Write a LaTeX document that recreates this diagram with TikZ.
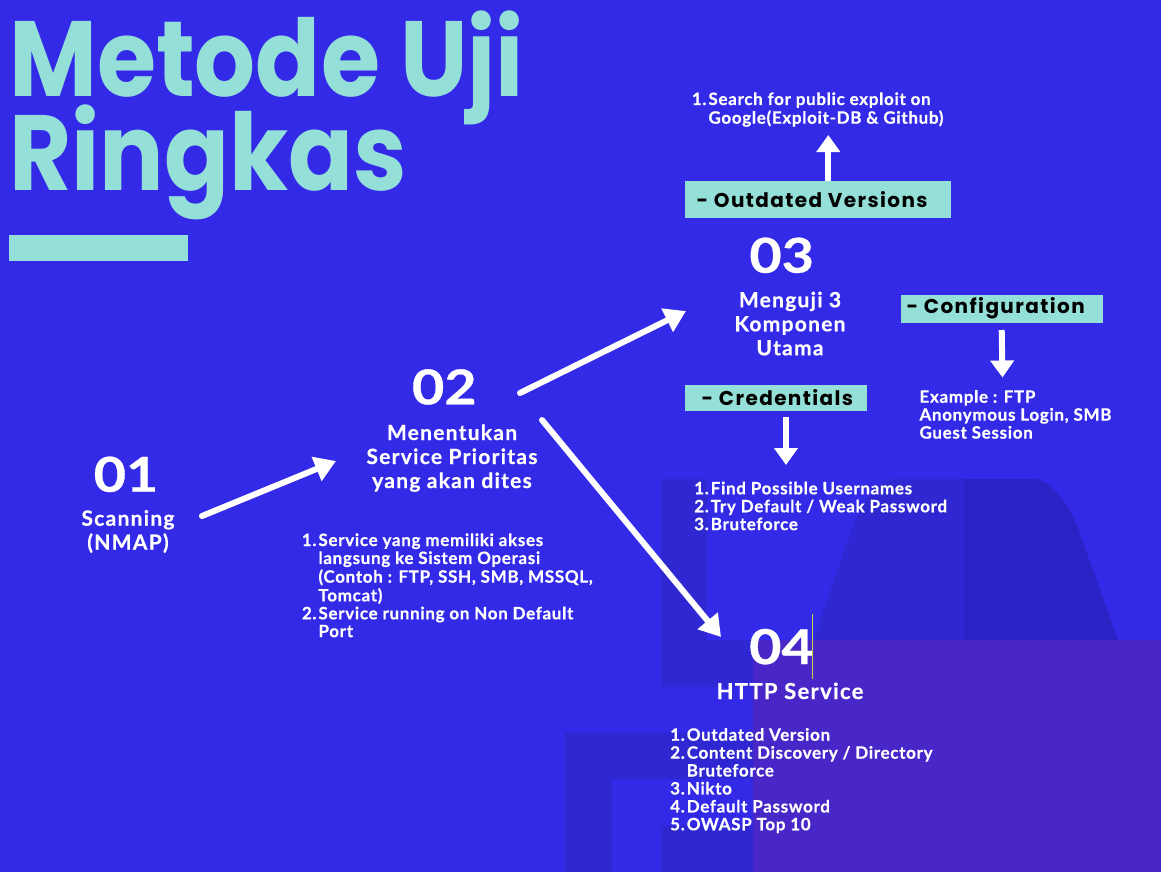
\documentclass[tikz,border=0pt]{standalone}
\usepackage{fontspec}
\usepackage{graphicx}
\setmainfont{Lato}
\newfontfamily\titlefont{Poppins}
\newfontfamily\labfont{Poppins}[LetterSpace=7]
\newfontfamily\hfont{Lato}[LetterSpace=6,FakeBold=0.5]
\newfontfamily\lfont{Lato}[LetterSpace=4,FakeBold=0.5]
\newfontfamily\nfont{Lato}[FakeBold=0.6]
\usetikzlibrary{arrows.meta}
\definecolor{bgblue}{RGB}{51,42,231}
\definecolor{shadeA}{RGB}{47,40,210}
\definecolor{shadeB}{RGB}{43,35,198}
\definecolor{purp}{RGB}{73,38,200}
\definecolor{tealc}{RGB}{148,224,216}
\definecolor{cursorc}{RGB}{200,210,70}
\newcommand\cTxt[1]{\begin{tabular}[t]{@{}c@{}}#1\end{tabular}}
\newcommand\lTxt[1]{\begin{tabular}[t]{@{}l@{}}#1\end{tabular}}
\newcommand\oLst[1]{\begin{tabular}[t]{@{}l@{\hspace{2pt}}l@{}}#1\end{tabular}}
\newcommand\wideNum[1]{\scalebox{1.16}[1]{#1}}
\begin{document}
\begin{tikzpicture}[x=1pt,y=-1pt,
  num/.style={anchor=base,inner sep=0pt,text=white,font=\nfont\bfseries\fontsize{48}{48}\selectfont},
  head/.style={anchor=base,inner sep=0pt,text=white,font=\hfont\bfseries\fontsize{21}{24}\selectfont},
  small/.style={anchor=base west,inner sep=0pt,text=white,font=\lfont\bfseries\fontsize{17}{17.8}\selectfont},
  tbox/.style={fill=tealc,anchor=north west,inner sep=0pt,text=black,font=\labfont\bfseries\fontsize{20}{20}\selectfont},
  bigarrow/.style={draw=white,line width=6pt,line cap=round,-{Triangle[length=21pt,width=25pt]}},
  smallarrow/.style={draw=white,line width=6pt,-{Triangle[length=17pt,width=23pt]}},
  titletext/.style={anchor=base west,inner sep=0pt,text=tealc,font=\titlefont\bfseries\fontsize{107}{94}\selectfont}
]
\fill[bgblue] (0,0) rectangle (1161,872);
\useasboundingbox (0,0) rectangle (1161,872);

% faint background shapes
\fill[shadeA] (661,479) rectangle (707,687);
\fill[shadeA] (661,640) rectangle (753,687);
\begin{scope}
  \path[clip] (890,479) .. controls (872,485) and (862,505) .. (852,528) -- (813,640) -- (1118,640) -- (1078,528) .. controls (1068,505) and (1056,485) .. (1037,479) -- cycle;
  \fill[shadeA] (800,470) rectangle (964,650);
  \fill[shadeB] (964,470) rectangle (1130,650);
\end{scope}
\fill[shadeA] (565,733) rectangle (753,872);
\fill[bgblue] (612,779) rectangle (753,872);
\fill[shadeA] (661,826) rectangle (753,872);
\fill[purp] (753,640) rectangle (1161,872);

% title
\node[titletext] (title) at (9,96.7) {\scalebox{0.895}[1]{\vtop{\baselineskip=94pt\lineskiplimit=-300pt\lineskip=0pt\hbox{Metode Uji}\hbox{Ringkas}}}};
\node[fill=tealc,inner sep=0pt,minimum width=179pt,minimum height=25.5pt,anchor=north west] (bar) at (9,235) {};

% step 01
\node[num] (n01) at (126,491.7) {\wideNum{01}};
\node[head] (t01) at (128,525.7) {\cTxt{Scanning\\(NMAP)}};

% step 02
\node[num] (n02) at (444.3,404.3) {\wideNum{02}};
\node[head] (t02) at (452,440) {\cTxt{Menentukan\\Service Prioritas\\yang akan dites}};
\node[small] (l02) at (301.7,546) {\oLst{1. & Service yang memiliki akses\\ & langsung ke Sistem Operasi\\ & (Contoh : FTP, SSH, SMB, MSSQL,\\ & Tomcat)\\ 2. & Service running on Non Default\\ & Port}};

% step 03
\node[num] (n03) at (781.7,272.7) {\wideNum{03}};
\node[head] (t03) at (790,307.3) {\cTxt{Menguji 3\\Komponen\\Utama}};

\node[tbox,minimum width=266pt,minimum height=37pt] (boxOut) at (685,181) {};
\node[tbox,anchor=west] (boxOutT) at (696.5,199.5) {- Outdated Versions};
\node[small] (lOut) at (691.7,105) {\oLst{1. & Search for public exploit on\\ & Google(Exploit-DB \& Github)}};

\node[tbox,minimum width=202pt,minimum height=27.5pt] (boxConf) at (901,295) {};
\node[tbox,anchor=west] (boxConfT) at (906.5,308.7) {- Configuration};
\node[small] (lConf) at (919.3,402.7) {\lTxt{Example : FTP\\Anonymous Login, SMB\\Guest Session}};

\node[tbox,minimum width=181.5pt,minimum height=25.7pt] (boxCred) at (685,385) {};
\node[tbox,anchor=west] (boxCredT) at (701.5,397.8) {- Credentials};
\node[small] (lCred) at (694,494.3) {\oLst{1. & Find Possible Usernames\\ 2. & Try Default / Weak Password\\ 3. & Bruteforce}};

% step 04
\node[num] (n04) at (781.5,664) {\wideNum{04}};
\node[head,font=\hfont\bfseries\fontsize{22}{24}\selectfont] (t04) at (790,699) {HTTP Service};
\node[small] (l04) at (670,740.7) {\oLst{1. & Outdated Version\\ 2. & Content Discovery / Directory\\ & Bruteforce\\ 3. & Nikto\\ 4. & Default Password\\ 5. & OWASP Top 10}};
\draw[cursorc,line width=1pt] (812.3,614) -- (812.3,679);

% arrows
\coordinate (a1s) at (202,516);
\coordinate (a1e) at (336,461);
\coordinate (a2s) at (520,393);
\coordinate (a2e) at (686,311);
\coordinate (a3s) at (542,420);
\coordinate (a3e) at (721,637);
\coordinate (upS) at (828.3,181);
\coordinate (upE) at (828.3,135);
\coordinate (cfS) at (1001.7,330);
\coordinate (cfE) at (1002.5,377.5);
\coordinate (crS) at (786,417);
\coordinate (crE) at (786,465);
\draw[bigarrow] (a1s) -- (a1e);
\draw[bigarrow] (a2s) -- (a2e);
\draw[bigarrow] (a3s) -- (a3e);
\draw[smallarrow] (upS) -- (upE);
\draw[smallarrow] (cfS) -- (cfE);
\draw[smallarrow] (crS) -- (crE);
\end{tikzpicture}
\end{document}
